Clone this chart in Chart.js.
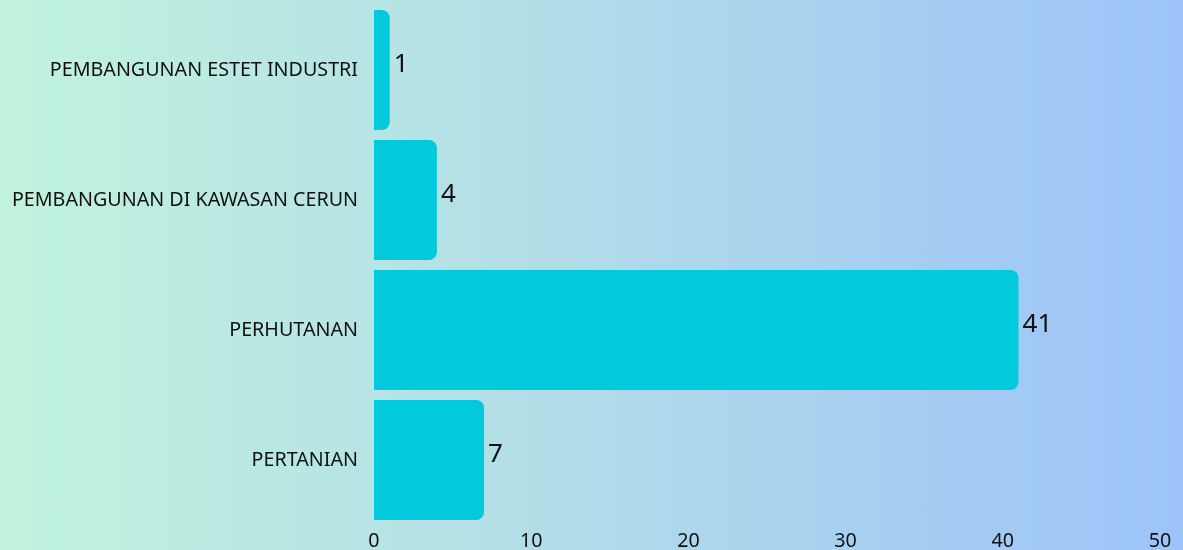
<!DOCTYPE html>
<html>
<head>
<meta charset="utf-8">
<script src="https://cdn.jsdelivr.net/npm/chart.js@4"></script>
<style>
html,body{margin:0;padding:0;width:1183px;height:550px;overflow:hidden;}
body{background:linear-gradient(to right,#c1f3de 0%,#b4e0e6 40%,#9dc3f9 100%);}
#wrap{position:absolute;left:0;top:0;width:1183px;height:550px;}
</style>
</head>
<body>
<div id="wrap"><canvas id="c"></canvas></div>
<script>
const categories = ["PEMBANGUNAN ESTET INDUSTRI","PEMBANGUNAN DI KAWASAN CERUN","PERHUTANAN","PERTANIAN"];
const values = [1,4,41,7];
const xTicks = [0,10,20,30,40,50];

const valueLabels = {
  id:'valueLabels',
  afterDatasetsDraw(chart){
    const ctx = chart.ctx;
    const meta = chart.getDatasetMeta(0);
    ctx.save();
    ctx.font = '26px "Noto Sans"';
    ctx.fillStyle = '#111';
    ctx.textBaseline = 'middle';
    ctx.textAlign = 'left';
    meta.data.forEach((bar,i)=>{
      ctx.fillText(String(values[i]), bar.x + 4, bar.y - 5);
    });
    ctx.restore();
  }
};

new Chart(document.getElementById('c'),{
  type:'bar',
  data:{labels:categories,datasets:[{data:values,backgroundColor:'#00cadc',borderRadius:{topLeft:0,bottomLeft:0,topRight:8,bottomRight:8},borderSkipped:false,categoryPercentage:1,barPercentage:0.923}]},
  options:{
    indexAxis:'y',
    responsive:true,
    maintainAspectRatio:false,
    animation:false,
    layout:{padding:{top:5,right:23,bottom:0,left:0}},
    plugins:{legend:{display:false},tooltip:{enabled:false}},
    scales:{
      x:{min:0,max:50,
        afterBuildTicks(s){s.ticks = xTicks.map(v=>({value:v}));},
        afterFit(s){s.height=25;s.paddingLeft=0;s.paddingRight=0;},
        grid:{display:false,drawTicks:false},border:{display:false},
        ticks:{color:'#111',font:{family:'Noto Sans',size:19.7},padding:5,maxRotation:0}},
      y:{
        afterFit(s){s.width=374;s.paddingTop=0;s.paddingBottom=0;},
        grid:{display:false,drawTicks:false},border:{display:false},
        ticks:{color:'#111',font:{family:'Noto Sans',size:19.7},padding:16}}
    }
  },
  plugins:[valueLabels]
});
</script>
</body>
</html>
